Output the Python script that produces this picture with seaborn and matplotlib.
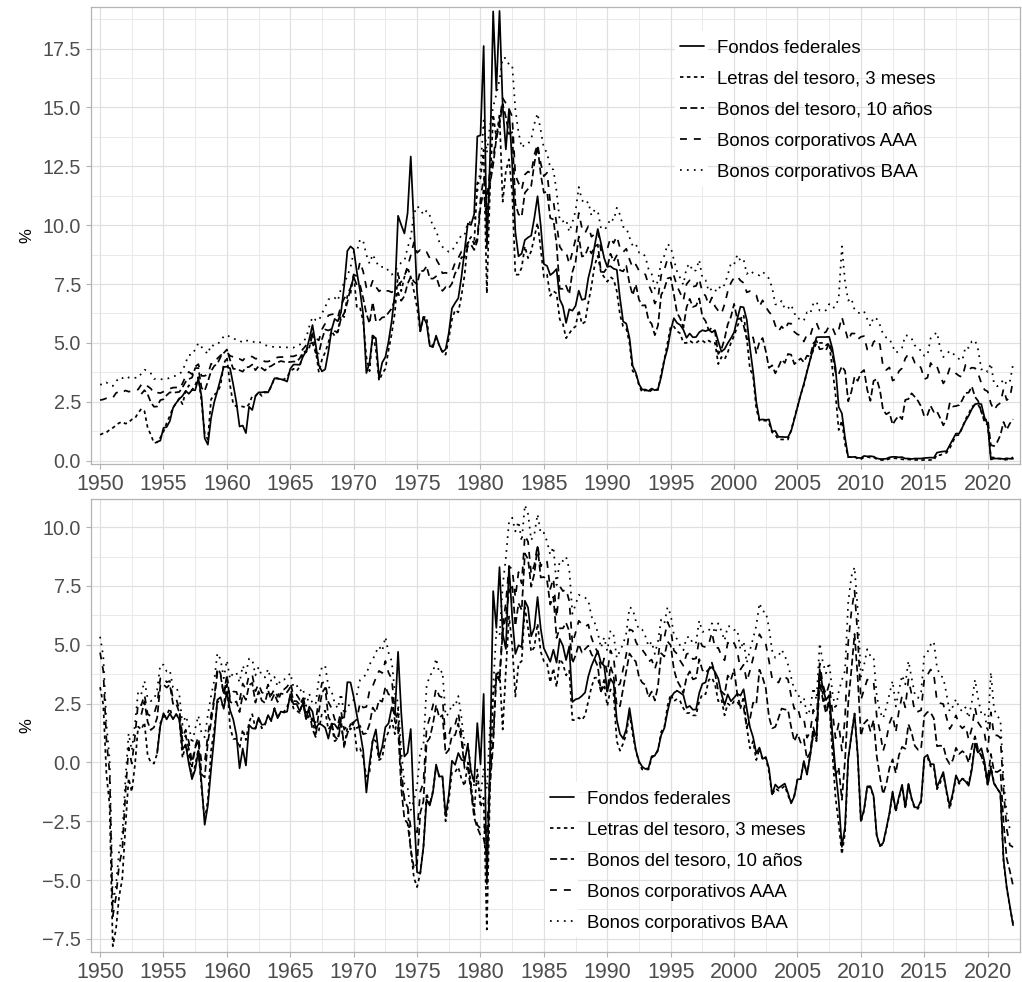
import matplotlib.pyplot as plt
import numpy as np
import pandas as pd
import seaborn as sns
from matplotlib.patches import Rectangle

# Datos trimestrales (%). Cada lista empieza en su propio trimestre.
inicio_fondos = 1954.5
fondos = [
    0.80, 0.85,
    1.39, 1.43, 1.68, 2.24,
    2.45, 2.62, 2.75, 2.96,
    2.84, 3.00, 2.99, 3.50,
    2.72, 0.95, 0.68, 1.80,
    2.48, 2.96, 3.47, 3.98,
    3.99, 3.92, 3.23, 2.47,
    1.45, 1.49, 1.17, 2.29,
    2.15, 2.73, 2.90, 2.90,
    2.92, 2.90, 3.18, 3.50,
    3.48, 3.46, 3.42, 3.36,
    3.90, 4.08, 4.08, 4.07,
    4.42, 4.65, 5.17, 5.76,
    4.94, 4.05, 3.79, 3.88,
    4.61, 5.55, 6.02, 5.92,
    6.30, 7.41, 8.91, 9.10,
    8.98, 8.01, 7.21, 6.20,
    3.72, 4.16, 5.31, 5.20,
    3.50, 4.17, 4.40, 5.06,
    5.94, 7.12, 10.40, 10.01,
    9.65, 10.51, 12.92, 10.06,
    7.13, 5.49, 6.10, 5.82,
    4.87, 4.82, 5.31, 4.90,
    4.61, 4.73, 5.42, 6.47,
    6.70, 6.90, 7.81, 8.96,
    10.07, 10.01, 10.47, 13.77,
    13.82, 17.61, 9.03, 12.81,
    19.08, 15.72, 19.10, 15.08,
    13.22, 14.94, 12.59, 9.71,
    8.68, 8.80, 9.37, 9.48,
    9.56, 10.32, 11.23, 9.99,
    8.35, 8.27, 7.88, 7.99,
    8.14, 6.85, 6.56, 5.85,
    6.43, 6.37, 6.58, 7.22,
    6.83, 6.87, 7.75, 8.30,
    9.12, 9.84, 9.24, 8.61,
    8.23, 8.26, 8.15, 8.11,
    6.91, 5.91, 5.82, 5.21,
    4.03, 3.73, 3.25, 3.02,
    3.02, 2.96, 3.06, 2.99,
    3.05, 3.56, 4.26, 4.76,
    5.53, 6.05, 5.85, 5.76,
    5.56, 5.22, 5.40, 5.24,
    5.25, 5.45, 5.54, 5.50,
    5.56, 5.45, 5.54, 5.07,
    4.63, 4.74, 4.99, 5.20,
    5.45, 6.02, 6.54, 6.51,
    5.98, 4.80, 3.77, 2.49,
    1.73, 1.75, 1.73, 1.75,
    1.24, 1.26, 1.01, 1.01,
    1.00, 1.00, 1.26, 1.76,
    2.28, 2.79, 3.26, 3.78,
    4.29, 4.79, 5.24, 5.25,
    5.25, 5.25, 5.26, 4.76,
    3.94, 2.28, 2.01, 0.97,
    0.15, 0.15, 0.16, 0.12,
    0.11, 0.20, 0.18, 0.19,
    0.17, 0.10, 0.07, 0.07,
    0.08, 0.14, 0.16, 0.16,
    0.14, 0.15, 0.09, 0.09,
    0.07, 0.09, 0.09, 0.09,
    0.11, 0.12, 0.13, 0.12,
    0.34, 0.37, 0.39, 0.40,
    0.65, 0.90, 1.15, 1.15,
    1.41, 1.69, 1.91, 2.19,
    2.40, 2.42, 2.40, 1.83,
    1.55, 0.05, 0.09, 0.09,
    0.09, 0.07, 0.10, 0.08,
    0.08,
]

inicio_letras = 1950.0
letras = [
    1.10, 1.16, 1.20, 1.31,
    1.39, 1.50, 1.60, 1.65,
    1.57, 1.62, 1.75, 1.80,
    2.02, 2.20, 2.10, 1.40,
    1.10, 0.75, 0.78, 0.98,
    1.23, 1.60, 1.90, 2.25,
    2.45, 2.65, 2.40, 2.95,
    3.20, 3.00, 3.20, 3.55,
    2.50, 1.15, 0.90, 2.60,
    2.80, 2.90, 3.20, 4.10,
    4.40, 3.20, 2.40, 2.30,
    2.30, 2.30, 2.25, 2.40,
    2.75, 2.75, 2.90, 2.75,
    2.90, 2.90, 3.15, 3.50,
    3.50, 3.45, 3.45, 3.55,
    3.80, 3.90, 3.80, 4.00,
    4.60, 4.60, 4.80, 5.35,
    4.70, 3.75, 4.30, 4.60,
    5.00, 5.50, 5.30, 5.50,
    6.20, 6.10, 7.00, 7.10,
    7.90, 6.50, 6.50, 5.90,
    4.40, 3.80, 5.40, 4.70,
    3.40, 3.70, 3.90, 4.70,
    5.40, 6.30, 8.00, 7.20,
    7.80, 8.20, 7.80, 7.20,
    6.50, 5.50, 6.10, 6.10,
    4.90, 4.90, 5.20, 4.90,
    4.60, 4.50, 5.20, 6.00,
    6.40, 6.30, 7.00, 7.90,
    9.30, 9.50, 9.20, 11.80,
    12.00, 13.20, 7.10, 11.60,
    14.70, 13.70, 14.70, 11.00,
    12.30, 12.80, 11.40, 7.90,
    7.90, 8.20, 9.10, 8.60,
    8.90, 9.50, 10.10, 9.00,
    7.80, 7.90, 7.00, 7.20,
    7.10, 6.00, 5.80, 5.20,
    5.40, 5.60, 5.70, 6.40,
    5.80, 5.90, 6.70, 7.40,
    8.30, 8.70, 8.00, 7.80,
    7.60, 7.80, 7.70, 7.20,
    6.20, 5.70, 5.60, 5.00,
    3.80, 3.70, 3.20, 2.90,
    3.00, 2.90, 3.00, 3.00,
    3.00, 3.70, 4.30, 5.00,
    5.70, 5.70, 5.50, 5.40,
    5.00, 5.00, 5.10, 5.00,
    5.00, 5.10, 5.10, 5.00,
    5.10, 5.00, 5.00, 4.10,
    4.40, 4.30, 4.60, 5.00,
    5.30, 5.70, 6.00, 6.20,
    5.20, 3.90, 3.60, 2.20,
    1.70, 1.70, 1.70, 1.60,
    1.20, 1.10, 0.90, 0.90,
    0.90, 0.90, 1.30, 1.80,
    2.30, 2.80, 3.20, 3.80,
    4.30, 4.70, 5.00, 5.00,
    5.00, 4.90, 5.00, 3.90,
    2.80, 1.30, 1.70, 0.70,
    0.15, 0.15, 0.18, 0.07,
    0.06, 0.15, 0.16, 0.13,
    0.15, 0.06, 0.04, 0.02,
    0.03, 0.08, 0.10, 0.10,
    0.07, 0.06, 0.04, 0.05,
    0.04, 0.03, 0.03, 0.02,
    0.03, 0.02, 0.03, 0.02,
    0.26, 0.23, 0.30, 0.33,
    0.51, 0.80, 1.07, 1.09,
    1.41, 1.76, 1.99, 2.29,
    2.37, 2.38, 2.11, 1.62,
    1.52, 0.14, 0.13, 0.09,
    0.08, 0.02, 0.05, 0.05,
    0.15,
]

inicio_bonos10 = 1953.25
bonos10 = [
    2.83, 2.99, 2.82,
    2.48, 2.29, 2.30, 2.57,
    2.61, 2.78, 2.90, 2.89,
    2.90, 2.92, 3.11, 3.35,
    3.46, 3.53, 3.93, 3.93,
    3.09, 2.97, 3.36, 3.80,
    4.02, 4.12, 4.40, 4.57,
    4.72, 4.28, 3.90, 3.89,
    3.84, 3.78, 3.96, 3.98,
    4.08, 3.84, 4.02, 3.93,
    3.83, 3.97, 4.02, 4.11,
    4.17, 4.23, 4.20, 4.19,
    4.19, 4.21, 4.20, 4.35,
    4.61, 4.65, 4.95, 5.01,
    4.58, 4.55, 5.16, 5.57,
    5.53, 5.59, 5.50, 5.46,
    6.04, 6.26, 6.72, 7.33,
    7.79, 7.46, 7.46, 6.90,
    6.24, 5.83, 6.73, 5.93,
    5.95, 6.08, 6.11, 6.29,
    6.46, 6.85, 7.13, 6.79,
    6.99, 7.51, 7.81, 7.60,
    7.50, 8.05, 8.06, 8.25,
    7.74, 7.73, 7.83, 7.41,
    7.21, 7.37, 7.33, 7.52,
    7.96, 8.15, 8.64, 8.64,
    9.10, 9.18, 8.95, 9.33,
    10.80, 11.47, 10.25, 11.75,
    12.57, 13.68, 14.28, 15.15,
    14.59, 13.87, 13.95, 10.91,
    10.46, 10.38, 11.38, 11.54,
    11.67, 12.63, 13.36, 12.16,
    11.38, 11.43, 10.31, 10.24,
    9.19, 7.30, 7.30, 7.43,
    7.08, 8.02, 8.45, 9.52,
    8.67, 8.72, 9.06, 8.80,
    9.09, 9.18, 8.02, 8.01,
    8.21, 8.79, 8.47, 8.72,
    8.09, 8.04, 8.27, 7.53,
    7.03, 7.48, 6.84, 6.59,
    6.60, 5.97, 5.81, 5.33,
    5.75, 7.04, 7.30, 7.74,
    7.78, 7.06, 6.28, 6.04,
    5.65, 6.51, 6.87, 6.53,
    6.58, 6.89, 6.12, 5.93,
    5.54, 5.64, 5.46, 4.53,
    4.72, 5.18, 5.79, 6.11,
    6.66, 6.00, 6.05, 5.74,
    5.16, 5.14, 5.24, 4.57,
    5.04, 5.21, 4.65, 3.94,
    4.05, 3.71, 3.98, 4.29,
    4.15, 4.53, 4.50, 4.10,
    4.22, 4.34, 4.18, 4.46,
    4.42, 4.99, 5.09, 4.73,
    4.76, 4.69, 5.00, 4.53,
    3.74, 3.68, 4.01, 3.81,
    2.52, 2.93, 3.56, 3.39,
    3.73, 3.85, 3.01, 2.54,
    3.39, 3.46, 3.00, 2.15,
    1.97, 2.05, 1.53, 1.75,
    1.91, 1.76, 2.58, 2.62,
    2.86, 2.71, 2.54, 2.30,
    1.88, 1.94, 2.32, 2.07,
    2.09, 1.81, 1.50, 1.76,
    2.43, 2.30, 2.32, 2.36,
    2.58, 2.87, 2.89, 3.15,
    2.71, 2.53, 2.06, 1.71,
    1.76, 0.66, 0.62, 0.79,
    1.08, 1.64, 1.32, 1.58,
    1.76,
]

inicio_aaa = 1950.0
aaa = [
    2.57, 2.60, 2.65, 2.67,
    2.66, 2.87, 2.94, 2.89,
    2.98, 2.93, 2.95, 3.01,
    3.02, 3.23, 3.28, 3.16,
    3.06, 2.86, 2.89, 2.87,
    2.93, 3.01, 3.06, 3.10,
    3.11, 3.05, 3.28, 3.59,
    3.77, 3.67, 3.99, 4.10,
    3.60, 3.60, 3.67, 4.11,
    4.12, 4.34, 4.47, 4.57,
    4.61, 4.45, 4.41, 4.30,
    4.32, 4.25, 4.41, 4.42,
    4.42, 4.33, 4.34, 4.28,
    4.21, 4.21, 4.26, 4.32,
    4.39, 4.40, 4.40, 4.42,
    4.43, 4.43, 4.48, 4.56,
    4.74, 4.90, 5.02, 5.41,
    5.20, 5.11, 5.58, 5.82,
    6.17, 6.21, 6.24, 6.09,
    6.59, 6.89, 7.08, 7.33,
    7.91, 7.83, 8.44, 8.03,
    7.36, 7.25, 7.64, 7.39,
    7.19, 7.30, 7.21, 7.21,
    7.15, 7.26, 7.45, 7.60,
    7.83, 8.25, 8.72, 9.27,
    8.83, 8.95, 8.84, 8.86,
    8.60, 8.52, 8.56, 8.32,
    7.96, 7.98, 7.94, 8.04,
    8.41, 8.61, 8.88, 8.89,
    9.25, 9.38, 9.20, 9.44,
    11.09, 12.04, 11.07, 12.31,
    12.81, 13.88, 14.38, 15.40,
    15.18, 14.94, 14.61, 12.12,
    11.79, 11.51, 12.15, 12.28,
    12.20, 13.00, 13.44, 12.63,
    12.08, 12.23, 10.97, 11.02,
    10.05, 9.09, 8.88, 8.86,
    8.36, 8.85, 9.42, 10.52,
    9.88, 9.67, 9.96, 9.51,
    9.62, 9.79, 8.93, 8.92,
    8.99, 9.46, 9.24, 9.53,
    9.04, 8.86, 9.00, 8.55,
    8.20, 8.33, 8.07, 7.99,
    7.91, 7.48, 7.17, 6.67,
    6.92, 7.88, 8.11, 8.57,
    8.46, 7.86, 7.41, 7.12,
    6.81, 7.50, 7.66, 7.39,
    7.42, 7.73, 7.14, 7.00,
    6.61, 6.93, 6.55, 6.37,
    6.24, 6.64, 7.19, 7.55,
    7.78, 7.83, 7.65, 7.55,
    7.15, 7.20, 7.13, 7.03,
    6.55, 6.81, 6.53, 6.32,
    6.17, 5.74, 5.49, 5.70,
    5.54, 5.83, 5.82, 5.47,
    5.36, 5.33, 5.06, 5.35,
    5.29, 5.74, 5.85, 5.51,
    5.40, 5.47, 5.73, 5.66,
    5.33, 5.55, 6.10, 5.60,
    5.10, 5.40, 5.40, 5.15,
    5.26, 5.29, 4.72, 4.68,
    5.04, 5.16, 4.93, 3.98,
    3.85, 3.96, 3.40, 3.47,
    3.80, 3.93, 4.34, 4.53,
    4.49, 4.16, 4.16, 3.92,
    3.46, 3.52, 4.15, 3.95,
    4.00, 3.62, 3.28, 3.51,
    3.92, 3.85, 3.70, 3.60,
    3.55, 4.07, 3.87, 3.95,
    3.93, 3.69, 3.29, 3.01,
    2.94, 2.43, 2.14, 2.35,
    2.45, 3.04, 2.57, 2.68,
    3.40,
]

inicio_baa = 1950.0
baa = [
    3.24, 3.22, 3.32, 3.22,
    3.17, 3.35, 3.53, 3.50,
    3.59, 3.53, 3.50, 3.52,
    3.51, 3.70, 3.86, 3.82,
    3.71, 3.47, 3.49, 3.46,
    3.45, 3.47, 3.52, 3.59,
    3.60, 3.68, 3.80, 4.17,
    4.49, 4.49, 4.73, 4.99,
    4.83, 4.67, 4.53, 4.92,
    4.87, 4.94, 5.08, 5.28,
    5.34, 5.25, 5.22, 5.11,
    5.10, 5.01, 5.09, 5.11,
    5.08, 5.00, 5.05, 4.99,
    4.91, 4.87, 4.84, 4.83,
    4.83, 4.82, 4.82, 4.81,
    4.80, 4.80, 4.88, 4.93,
    5.06, 5.20, 5.71, 6.10,
    5.97, 5.94, 6.26, 6.52,
    6.84, 6.94, 6.92, 6.79,
    7.32, 7.54, 7.84, 8.22,
    8.86, 8.89, 9.40, 9.33,
    8.74, 8.37, 8.76, 8.48,
    8.23, 8.23, 8.23, 8.06,
    7.90, 8.05, 8.24, 8.41,
    8.48, 9.04, 9.48, 10.48,
    10.81, 10.69, 10.44, 10.62,
    10.41, 9.92, 9.82, 9.29,
    9.08, 8.97, 8.87, 8.89,
    9.17, 9.32, 9.60, 9.59,
    10.13, 10.12, 10.29, 11.40,
    12.42, 14.45, 13.07, 14.23,
    15.03, 15.56, 16.17, 17.11,
    17.10, 16.82, 16.80, 14.92,
    13.94, 13.29, 13.44, 13.46,
    13.65, 14.31, 14.75, 14.03,
    13.26, 13.09, 12.43, 12.36,
    11.44, 10.19, 10.16, 10.24,
    9.72, 10.12, 10.61, 11.62,
    11.07, 10.90, 11.00, 10.41,
    10.65, 10.61, 9.87, 9.81,
    9.94, 10.30, 10.20, 10.74,
    10.45, 9.93, 9.89, 9.49,
    9.13, 9.21, 8.84, 8.84,
    8.67, 8.14, 7.93, 7.31,
    7.65, 8.47, 8.71, 9.20,
    9.08, 8.53, 8.04, 7.76,
    7.47, 8.20, 8.36, 8.03,
    8.09, 8.53, 7.75, 7.67,
    7.19, 7.31, 7.18, 7.41,
    7.29, 7.48, 7.89, 8.38,
    8.33, 8.74, 8.49, 8.55,
    7.93, 8.07, 7.97, 7.91,
    7.87, 8.02, 7.90, 7.73,
    7.35, 6.64, 6.62, 6.79,
    6.44, 6.46, 6.62, 6.27,
    6.02, 6.05, 5.95, 6.30,
    6.24, 6.68, 6.76, 6.37,
    6.34, 6.39, 6.65, 6.48,
    6.54, 6.90, 9.10, 7.60,
    6.80, 6.90, 6.40, 6.29,
    6.25, 6.34, 6.01, 5.72,
    6.09, 6.02, 5.76, 5.37,
    5.23, 5.19, 4.87, 4.58,
    4.66, 4.80, 5.32, 5.31,
    5.19, 4.90, 4.73, 4.69,
    4.45, 4.48, 5.20, 5.34,
    5.45, 4.79, 4.40, 4.52,
    4.66, 4.57, 4.39, 4.32,
    4.26, 4.84, 4.79, 5.07,
    5.12, 4.70, 3.87, 3.92,
    3.77, 4.13, 3.27, 3.16,
    3.24, 3.46, 3.24, 3.35,
    4.10,
]

# inflacion interanual (%) que separa el panel nominal del real
inicio_inflacion = 1950.0
inflacion = [
    -2.1, -1.3, 1.7, 3.1,
    9.2, 8.6, 7.3, 6.6,
    4.3, 2.3, 3.0, 1.9,
    0.5, 0.8, 0.4, 1.1,
    1.1, 0.8, 0.4, -0.7,
    -0.7, -0.4, -0.4, 0.4,
    0.4, 0.8, 2.2, 2.2,
    2.9, 3.7, 3.3, 3.0,
    3.6, 3.6, 2.5, 2.1,
    1.4, 0.3, 0.7, 1.7,
    1.0, 1.7, 1.4, 1.3,
    1.7, 0.9, 1.3, 0.7,
    0.7, 1.3, 1.0, 1.3,
    1.3, 0.9, 1.4, 1.2,
    1.6, 1.3, 1.3, 1.2,
    1.0, 1.6, 1.6, 1.9,
    1.9, 2.8, 2.8, 3.6,
    3.5, 2.4, 2.2, 2.4,
    3.6, 3.9, 4.4, 4.5,
    4.4, 5.5, 5.5, 5.7,
    6.2, 6.0, 5.9, 5.7,
    5.0, 4.2, 4.4, 3.8,
    3.3, 3.5, 2.9, 3.4,
    3.6, 5.1, 5.7, 7.9,
    9.4, 10.1, 11.5, 12.1,
    11.8, 10.2, 9.7, 7.4,
    6.7, 6.1, 5.4, 5.5,
    5.2, 7.0, 6.8, 6.4,
    6.8, 6.5, 7.7, 8.9,
    9.3, 10.4, 11.3, 12.1,
    13.9, 14.7, 14.2, 12.7,
    11.8, 10.0, 10.8, 9.6,
    8.4, 6.6, 6.4, 5.1,
    3.7, 3.9, 2.5, 2.9,
    4.2, 4.6, 4.2, 4.3,
    3.5, 3.7, 3.6, 3.2,
    3.9, 1.6, 1.6, 1.5,
    1.5, 3.8, 3.9, 4.5,
    4.0, 3.9, 4.1, 4.2,
    4.7, 5.1, 5.0, 4.5,
    5.2, 4.7, 4.8, 6.3,
    5.7, 4.9, 4.4, 2.9,
    2.6, 3.2, 3.2, 3.2,
    3.3, 3.2, 2.8, 2.7,
    2.5, 2.4, 2.8, 2.6,
    2.8, 3.1, 2.8, 2.8,
    2.7, 2.9, 3.0, 3.0,
    3.0, 2.5, 2.2, 2.1,
    1.6, 1.4, 1.7, 1.5,
    1.7, 2.3, 2.1, 2.6,
    2.7, 3.1, 3.7, 3.4,
    3.7, 3.3, 2.7, 2.1,
    1.1, 1.6, 1.5, 2.0,
    2.6, 2.2, 2.1, 2.0,
    1.9, 2.3, 3.0, 3.2,
    3.0, 3.5, 3.2, 4.3,
    4.0, 3.5, 4.1, 1.3,
    2.1, 2.6, 2.4, 3.5,
    4.3, 3.9, 5.6, 3.7,
    0.0, -1.0, -1.9, -0.2,
    2.6, 2.2, 1.2, 1.2,
    1.6, 3.2, 3.6, 3.5,
    2.9, 2.3, 1.4, 2.2,
    1.6, 1.1, 2.0, 1.0,
    1.6, 2.0, 2.0, 1.7,
    -0.1, -0.2, 0.2, 0.2,
    1.4, 1.1, 0.8, 1.6,
    2.5, 2.2, 1.7, 2.0,
    2.1, 2.5, 2.9, 2.5,
    1.6, 2.0, 1.8, 1.8,
    2.5, 0.3, 1.0, 1.2,
    1.4, 4.2, 5.4, 6.2,
    7.0,
]

nombres = ['Fondos federales', 'Letras del tesoro, 3 meses', 'Bonos del tesoro, 10 años',
           'Bonos corporativos AAA', 'Bonos corporativos BAA']
series = [(fondos, inicio_fondos), (letras, inicio_letras), (bonos10, inicio_bonos10),
          (aaa, inicio_aaa), (baa, inicio_baa)]
# tipos de linea como los de ggplot: solid, 22, 42, 44, 13
dashes = dict(zip(nombres, ['', (2, 2), (4, 2), (4, 4), (1, 3)]))

frames = []
for nombre, (valores, inicio) in zip(nombres, series):
    fecha = inicio + np.arange(len(valores)) / 4
    idx = np.round((fecha - inicio_inflacion) * 4).astype(int)
    frames.append(pd.DataFrame({
        'fecha': fecha,
        'nominal': valores,
        'real': np.array(valores) - np.array(inflacion)[idx],
        'serie': nombre,
    }))
df = pd.concat(frames, ignore_index=True)

sns.set_theme(style='white')
plt.rcParams['font.family'] = ['Liberation Sans', 'DejaVu Sans']

fig = plt.figure(figsize=(10.22, 9.82), dpi=100)
ax1 = fig.add_axes([0.0895, 0.5278, 0.9082, 0.4651])
ax2 = fig.add_axes([0.0895, 0.0305, 0.9082, 0.4617])

paneles = [
    (ax1, 'nominal', (-0.13, 19.27), np.arange(0, 17.6, 2.5), (672.6, 32.5)),
    (ax2, 'real', (-8.06, 11.21), np.arange(-7.5, 10.1, 2.5), (542.6, 783.2)),
]
leyendas = []
for ax, col, ylim, yticks, (lx, ly) in paneles:
    sns.lineplot(data=df, x='fecha', y=col, style='serie', style_order=nombres,
                 dashes=dashes, color='black', linewidth=1.25, estimator=None,
                 errorbar=None, ax=ax)
    ax.set_xlim(1949.32, 2022.52)
    ax.set_xticks(np.arange(1950, 2021, 5))
    ax.set_xticks(np.arange(1952.5, 2022, 5), minor=True)
    ax.set_yticks(yticks)
    ax.set_yticks(np.arange(yticks[0] - 1.25, ylim[1], 2.5), minor=True)
    ax.set_ylim(*ylim)
    ax.set_xticklabels([str(a) for a in range(1950, 2021, 5)])
    ax.grid(which='major', color='#e0e0e0', linewidth=0.9)
    ax.grid(which='minor', color='#e6e6e6', linewidth=0.6)
    ax.set_axisbelow(True)
    for s in ax.spines.values():
        s.set_color('#b3b3b3')
        s.set_linewidth(0.9)
    ax.tick_params(axis='both', which='major', direction='out', length=3.5, width=0.8,
                   color='#b3b3b3', labelcolor='#4d4d4d', pad=4, bottom=True, left=True)
    ax.tick_params(axis='x', labelsize=15.5)
    ax.tick_params(axis='y', labelsize=14.2)
    ax.tick_params(which='minor', length=0)
    ax.set_xlabel('')
    ax.set_ylabel('%', fontsize=12, color='black')
    ax.yaxis.set_label_coords(-0.062, 0.5)

    leg = ax.get_legend()
    handles = leg.legend_handles
    labels = [t.get_text() for t in leg.texts]
    leg.remove()
    for h in handles:
        h.set_linewidth(1.25)
        h.set_color('black')
    leg = ax.legend(handles, labels, loc='upper left',
                    bbox_to_anchor=(lx / 1022, 1 - ly / 982), bbox_transform=fig.transFigure,
                    borderaxespad=0, frameon=False, fontsize=13.4, labelcolor='black',
                    handlelength=1.3, handletextpad=0.7, labelspacing=0.75, borderpad=0.4)
    leg.set_zorder(6)
    leyendas.append((ax, leg))

# fondo blanco solo detras de las claves de la leyenda (como en ggplot)
fig.canvas.draw()
renderer = fig.canvas.get_renderer()
for ax, leg in leyendas:
    ext = [h.get_window_extent(renderer) for h in leg.legend_handles]
    x0 = min(e.x0 for e in ext) - 5
    x1 = max(e.x1 for e in ext) + 4
    ys = sorted((e.y0 + e.y1) / 2 for e in ext)
    paso = (ys[-1] - ys[0]) / (len(ys) - 1)
    (ax0, ay0), (ax1_, ay1) = ax.transAxes.inverted().transform(
        [(x0, ys[0] - paso / 2), (x1, ys[-1] + paso / 2)])
    ax.add_artist(Rectangle((ax0, ay0), ax1_ - ax0, ay1 - ay0, transform=ax.transAxes,
                            facecolor='white', edgecolor='none', zorder=5, clip_on=False))

fig.savefig('out.png', dpi=100)
